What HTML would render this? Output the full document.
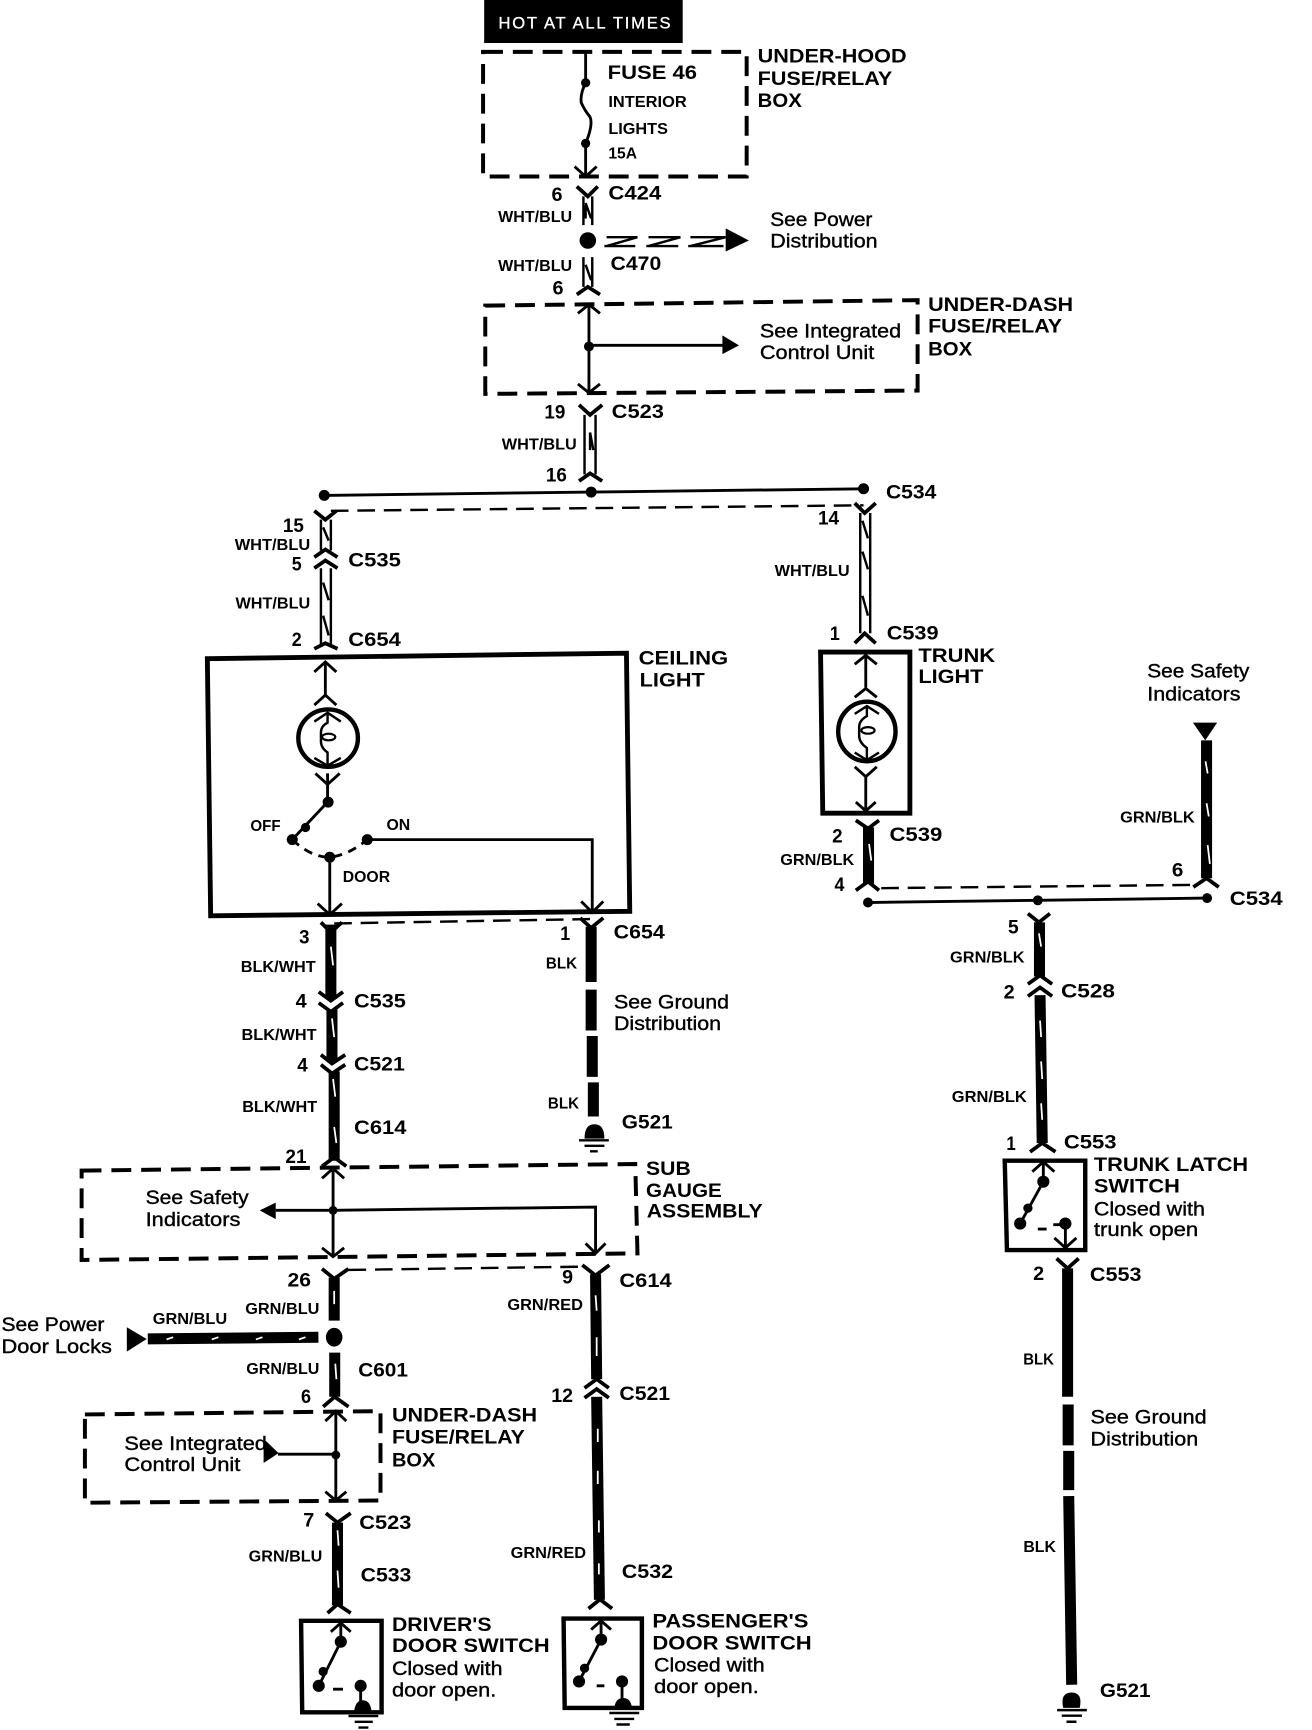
<!DOCTYPE html>
<html><head><meta charset="utf-8"><style>
html,body{margin:0;padding:0;background:#fff}
svg{display:block}
text{font-family:"Liberation Sans",sans-serif;fill:#000}
.b{font-weight:bold;font-size:17.5px}
.n{font-weight:bold;font-size:17.5px}
.s{font-weight:bold;font-size:14.5px}
.r{font-size:18px;stroke:#000;stroke-width:.35}
.l{fill:none;stroke:#000;stroke-width:2.6}
.d{fill:none;stroke:#000;stroke-width:3.6;stroke-dasharray:18 9}
.t{fill:none;stroke:#000;stroke-width:2.2}
.k{fill:none;stroke:#000;stroke-width:3.4}
.w{fill:none;stroke:#000;stroke-width:10}
.x{fill:none;stroke:#fff;stroke-width:1.6}
</style></head><body>
<svg width="1312" height="1730" viewBox="0 0 1189.6 1568" preserveAspectRatio="none" xmlns="http://www.w3.org/2000/svg">
<rect width="1189.6" height="1568" fill="#fff"/>
<rect x="439" y="0" width="180" height="39" fill="#000"/>

<!-- dashed boxes -->
<path class="d" d="M438 47H677V160H438Z"/>
<path class="d" d="M440 277L832 272V354L440 357Z"/>
<path class="d" d="M74 1061L576 1055L578 1136L74 1142Z"/>
<path class="d" d="M77 1282L345 1279V1360L77 1362Z"/>
<!-- thin dashed bridges -->
<path class="t" stroke-dasharray="16 8" d="M300 463L783 458"/>
<path class="t" stroke-width="2.6" stroke-dasharray="16 8" d="M303 837L536 833"/>
<path class="t" stroke-dasharray="16 8" d="M799 805L1085 802"/>
<path class="t" stroke-dasharray="16 8" d="M316 1151L532 1148"/>

<!-- solid boxes -->
<path fill="none" stroke="#000" stroke-width="4.4" d="M188 597L568 592L571 826L191 830Z"/>
<path fill="none" stroke="#000" stroke-width="4.4" d="M744 591H825V737H746Z"/>
<path fill="none" stroke="#000" stroke-width="4" d="M911 1052H984V1133H913Z"/>
<path fill="none" stroke="#000" stroke-width="4" d="M273 1469H346V1552H274Z"/>
<path fill="none" stroke="#000" stroke-width="4" d="M511 1467H582V1548H512Z"/>

<!-- thin wiring inside components -->
<path class="l" d="M531 47V75Q526 85 527 93Q530 100 535 106Q538 113 531 130V159M521 151L531 160L541 151"/>
<path class="l" d="M534 277V356M524 284L534 276L544 284M524 348L534 356L544 348M534 313H658"/>
<path class="l" d="M295 600V632M285 609L295 600L305 609M285 639L295 630L305 639"/>
<path class="l" d="M297 701L297 710V727M286 701L297 711L308 701M297 727L265 761M299 777V828M288 819L299 829L310 819M333 761H537V826M527 817L537 827L547 817"/>
<path class="l" stroke-dasharray="8 6" d="M265 761Q282 777 299 777Q316 775 333 761"/>
<path class="l" d="M785 594V623M775 602L785 594L795 602M775 632L785 624L795 632M775 695L785 704L795 695M785 704V734M776 727L785 735L794 727"/>
<path class="l" d="M302 1059V1139M292 1068L302 1059L312 1068M292 1131L302 1139L312 1131M250 1097H302Q400 1096 540 1094V1135M531 1127L540 1136L549 1127"/>
<path class="l" d="M304.500 1281V1359M295 1288L304.500 1279L314 1288M295 1352L304.500 1360L314 1352M252 1318H304.500"/>
<path class="l" d="M946 1054V1071M936 1062L946 1053L956 1062M946 1071L925 1109M966 1109V1130M956 1122L966 1131L976 1122M941 1114H949M955 1110H962"/>
<path class="l" d="M309 1472V1488M300 1479L309 1471L318 1479M309 1488L289 1528M302 1531H311M327 1528V1545"/>
<path class="l" d="M545 1470V1486M536 1477L545 1469L554 1477M545 1486L525 1524M541 1528H548M564 1524V1541"/>

<!-- buses -->
<path class="l" d="M294 449L536 446L783 443"/>
<path class="l" stroke-width="2.8" d="M787 818L941 816L1094 814"/>

<!-- dots -->
<g fill="#000">
<circle cx="531" cy="75" r="4.200"/><circle cx="531" cy="130" r="4.200"/>
<circle cx="533" cy="218" r="7.500"/><circle cx="534" cy="314" r="4.500"/>
<circle cx="294" cy="449" r="5"/><circle cx="536" cy="446" r="5"/><circle cx="783" cy="443" r="5"/>
<circle cx="297.500" cy="727" r="5"/><circle cx="277" cy="750" r="4.200"/><circle cx="265" cy="761" r="5"/><circle cx="299" cy="777" r="5"/><circle cx="333" cy="761" r="5"/>
<circle cx="787" cy="818" r="4.500"/><circle cx="941" cy="816" r="4.500"/><circle cx="1094.500" cy="814" r="4.500"/>
<circle cx="302" cy="1097" r="4"/><ellipse cx="303" cy="1212" rx="7.500" ry="8.500"/><circle cx="304.500" cy="1318.700" r="4"/>
<circle cx="946" cy="1071" r="5.500"/><circle cx="932" cy="1095" r="4.200"/><circle cx="925" cy="1109" r="5.500"/><circle cx="966" cy="1109" r="5.500"/>
<circle cx="309" cy="1488" r="5.500"/><circle cx="293" cy="1515" r="4.200"/><circle cx="289" cy="1528" r="5.500"/><circle cx="327" cy="1528" r="5.500"/>
<circle cx="545" cy="1486" r="5.500"/><circle cx="530" cy="1512" r="4.200"/><circle cx="525" cy="1524" r="5.500"/><circle cx="564" cy="1524" r="5.500"/>
<!-- arrows -->
<path d="M658 207L679 218L658 228Z"/>
<path d="M655 304L670 313L655 321Z"/>
<path d="M1081.600 655H1103.600L1092.800 671Z"/>
<path d="M235.500 1097L250 1090V1105Z"/>
<path d="M115 1203L133 1213.600L115 1225Z"/>
<path d="M239 1304L252.600 1317L239 1326Z"/>
<!-- grounds -->
<path d="M530 1032Q530 1019 539 1019Q548 1019 548 1032Z"/>
<path d="M964 1548Q961 1534 971.600 1534Q982 1534 979 1548Z"/>
<path d="M321 1552Q322 1541 329 1541Q336 1541 337 1552Z"/>
<path d="M557 1548Q558 1539 565 1539Q572 1539 573 1548Z"/>
</g>
<path class="t" d="M525 1033.500H552M530 1038.500H548M535 1043.500H542M958.500 1550H985.500M962.700 1555H981M967 1560.500H976M316 1555.400H343M321.600 1560.600H338M325 1565.800H334M552.500 1552.600H579.600M557 1558H575M559 1563H571"/>

<!-- lamps -->
<ellipse cx="297.500" cy="669" rx="27" ry="26" fill="none" stroke="#000" stroke-width="4"/>
<path class="t" d="M285 654L297 646L309 654M285 687L297 694L309 687M297 647V655Q291 658 291 664V672Q291 678 297 682V694"/>
<ellipse cx="298" cy="668" rx="6" ry="3" fill="none" stroke="#000" stroke-width="2"/>
<ellipse cx="786" cy="663" rx="26" ry="27" fill="none" stroke="#000" stroke-width="4"/>
<path class="t" d="M775 647L786 640L797 647M775 682L786 689L797 682M786 640V649Q779 653 779 659V667Q779 673 786 678V689"/>
<ellipse cx="787" cy="662" rx="6" ry="3" fill="none" stroke="#000" stroke-width="2"/>

<!-- WHT/BLU wires: double line with tracer -->
<path class="t" stroke-width="2.800" d="M529 178V204M537 178V204M529 233V260M537 233V260M530 376V430M540 376V430M291 471V499M300 471V499M291 515V584M300 515V584M780 465V574M789 465V574"/>
<path class="t" stroke-width="2.500" d="M531 184L536 198M531 198V186M531 240L536 254M535 392L538 408M535 408V392M293 478L298 490M293 528L298 544M293 558L298 576M782 472L787 488M782 500L787 516M782 540L787 558"/>
<!-- tracer on horizontal -->
<path class="t" stroke-width="3" d="M550 215H578M548 223H576M578 215L550 223M588 215H617M586 223H615M617 215L588 223M626 215H658M624 223H656M658 215L626 223"/>

<!-- connector Y / caps -->
<path class="k" d="M523 169L533 178L542 169M523 267L533 260L544 267M525 367L535 376L546 367M525 436L535 429L546 436M285 463L295 471L305 463M285 505L295 498L306 505M285 515L295 508L306 515M285 588L295 583L306 588M775 456L784 465L794 456M775 583L784 574L794 583"/>
<path class="k" stroke-width="3.800" d="M291 836L300 845L310 836M526 832L536 841L547 832M289 899L300 907L311 899M289 909L300 917L311 909M291 956L301 964L313 956M291 965L301 973L313 965M292 1057L303 1049L314 1057M292 1150L303 1159L316 1150M528 1146.600L540 1156L552.500 1146.600M530 1258L541 1250L552 1258M530 1267L541 1259L552 1267M533.600 1458L544 1449.600L555 1458M293 1275L303.500 1266L316 1275M295.500 1371.500L306 1380L318 1371.500M297 1462L306 1454L318 1462"/>
<path class="k" stroke-width="3.800" d="M776 743.500L787 751L797 743.500M776 807L787 799L797 807M1082 804L1094 796L1105 804M932 828L942 836L952 828M932 892L943 884L954 892M932 903L943 895L954 903M934 1044L945 1036L957 1044M958 1140.600L968 1149.600L978 1140.600"/>

<!-- black wires -->
<path class="w" d="M300 838L300 905M301 915L301 962M303 971L303 1052M536 840V890M536 897V934M537 939V976M538 981V1012"/>
<path class="w" d="M787.500 750V801M1094 671V796M942.500 836V885M943 902L945 1036"/>
<path class="w" stroke-width="10" d="M303 1158V1197M303.500 1226V1266M306 1380V1455M540 1155L541 1250M541 1266L543.500 1450"/>
<path class="w" d="M134 1213.500L288.700 1212"/>
<path class="w" d="M968 1149.600V1266M968.500 1273V1310M969 1315V1350.600M969 1356L971.700 1527"/>
<path class="x" d="M300 858L302 875M301 923L303 940M302 978L304 994M303 1021.500L305 1036M788 765L790 780M1093 690L1095 701M1094 728L1096 740M1095 766L1097 783M942 846L944 858M943 925L944 940M944 962L945 978M944 1000L945 1015M303 1170V1182M304 1236L305 1250M306 1387L307 1401M306 1423.500L307 1439M540 1174L541 1188M541 1212V1229M542 1295V1307M542 1333V1345M543 1378V1389M543 1417V1427M151 1214L157 1212M192 1214L198 1212M232 1214L238 1212M271 1214L277 1212"/>

<!-- TEXT -->
<text x="452" y="26" font-size="15" style="fill:#fff;stroke:#fff;stroke-width:.3" textLength="156" lengthAdjust="spacing">HOT AT ALL TIMES</text>
<g transform="translate(0,-0.8)">
<text class="b" x="687" y="57.500" textLength="135" lengthAdjust="spacingAndGlyphs">UNDER-HOOD</text>
<text class="b" x="687" y="78" textLength="122" lengthAdjust="spacingAndGlyphs">FUSE/RELAY</text>
<text class="b" x="687" y="98" textLength="40" lengthAdjust="spacingAndGlyphs">BOX</text>
<text class="b" x="551" y="72.500" textLength="81" lengthAdjust="spacingAndGlyphs">FUSE 46</text>
<text class="s" x="551.600" y="98" textLength="71" lengthAdjust="spacingAndGlyphs">INTERIOR</text>
<text class="s" x="551.600" y="122.400" textLength="54" lengthAdjust="spacingAndGlyphs">LIGHTS</text>
<text class="s" x="551.600" y="144.500" textLength="26" lengthAdjust="spacingAndGlyphs">15A</text>
<text class="n" x="500" y="183" textLength="10" lengthAdjust="spacingAndGlyphs">6</text>
<text class="b" x="551.600" y="181.600" textLength="48" lengthAdjust="spacingAndGlyphs">C424</text>
<text class="s" x="451.700" y="202" textLength="67" lengthAdjust="spacingAndGlyphs">WHT/BLU</text>
<text class="r" x="698.400" y="205.500" textLength="92.600" lengthAdjust="spacingAndGlyphs">See Power</text>
<text class="r" x="698.400" y="225" textLength="97.300" lengthAdjust="spacingAndGlyphs">Distribution</text>
<text class="s" x="451.700" y="246.400" textLength="67" lengthAdjust="spacingAndGlyphs">WHT/BLU</text>
<text class="b" x="553.600" y="245.500" textLength="46" lengthAdjust="spacingAndGlyphs">C470</text>
<text class="n" x="501" y="267.500" textLength="10" lengthAdjust="spacingAndGlyphs">6</text>
<text class="b" x="841.500" y="282.500" textLength="131.500" lengthAdjust="spacingAndGlyphs">UNDER-DASH</text>
<text class="b" x="841.500" y="302" textLength="121.500" lengthAdjust="spacingAndGlyphs">FUSE/RELAY</text>
<text class="b" x="841.500" y="323" textLength="40" lengthAdjust="spacingAndGlyphs">BOX</text>
<text class="r" x="689" y="306.500" textLength="128" lengthAdjust="spacingAndGlyphs">See Integrated</text>
<text class="r" x="689" y="326.400" textLength="103.700" lengthAdjust="spacingAndGlyphs">Control Unit</text>
<text class="n" x="493.600" y="380" textLength="19" lengthAdjust="spacingAndGlyphs">19</text>
<text class="b" x="554.600" y="379.500" textLength="47.400" lengthAdjust="spacingAndGlyphs">C523</text>
<text class="s" x="455" y="408" textLength="68" lengthAdjust="spacingAndGlyphs">WHT/BLU</text>
<text class="n" x="495" y="437" textLength="19" lengthAdjust="spacingAndGlyphs">16</text>
<text class="b" x="803.300" y="452.500" textLength="45.700" lengthAdjust="spacingAndGlyphs">C534</text>

<text class="n" x="256.500" y="483" textLength="19" lengthAdjust="spacingAndGlyphs">15</text>
<text class="s" x="212.800" y="499.300" textLength="68.500" lengthAdjust="spacingAndGlyphs">WHT/BLU</text>
<text class="n" x="264.500" y="517.700" textLength="9" lengthAdjust="spacingAndGlyphs">5</text>
<text class="b" x="315.800" y="514.400" textLength="47.700" lengthAdjust="spacingAndGlyphs">C535</text>
<text class="s" x="213.500" y="552.500" textLength="67.800" lengthAdjust="spacingAndGlyphs">WHT/BLU</text>
<text class="n" x="264.500" y="586.300" textLength="9" lengthAdjust="spacingAndGlyphs">2</text>
<text class="b" x="315.800" y="586.300" textLength="47.700" lengthAdjust="spacingAndGlyphs">C654</text>
<text class="b" x="579" y="603" textLength="81.300" lengthAdjust="spacingAndGlyphs">CEILING</text>
<text class="b" x="580" y="623.200" textLength="59" lengthAdjust="spacingAndGlyphs">LIGHT</text>
<text class="s" x="227" y="754" textLength="27.400" lengthAdjust="spacingAndGlyphs">OFF</text>
<text class="s" x="350.400" y="753" textLength="21.500" lengthAdjust="spacingAndGlyphs">ON</text>
<text class="s" x="310.800" y="800" textLength="42.900" lengthAdjust="spacingAndGlyphs">DOOR</text>
<text class="n" x="271.200" y="855.900" textLength="9.400" lengthAdjust="spacingAndGlyphs">3</text>
<text class="n" x="508" y="852.800" textLength="9" lengthAdjust="spacingAndGlyphs">1</text>
<text class="b" x="556.400" y="851.600" textLength="46.300" lengthAdjust="spacingAndGlyphs">C654</text>
<text class="s" x="218.300" y="881.600" textLength="68" lengthAdjust="spacingAndGlyphs">BLK/WHT</text>
<text class="n" x="268" y="914" textLength="10" lengthAdjust="spacingAndGlyphs">4</text>
<text class="b" x="321" y="914" textLength="47" lengthAdjust="spacingAndGlyphs">C535</text>
<text class="s" x="219" y="943.500" textLength="68" lengthAdjust="spacingAndGlyphs">BLK/WHT</text>
<text class="n" x="269.500" y="972" textLength="9.500" lengthAdjust="spacingAndGlyphs">4</text>
<text class="b" x="321" y="971" textLength="46" lengthAdjust="spacingAndGlyphs">C521</text>
<text class="s" x="219.600" y="1008.500" textLength="68" lengthAdjust="spacingAndGlyphs">BLK/WHT</text>
<text class="b" x="321" y="1028.500" textLength="47.500" lengthAdjust="spacingAndGlyphs">C614</text>
<text class="n" x="258.800" y="1054.700" textLength="19.200" lengthAdjust="spacingAndGlyphs">21</text>
<text class="s" x="495" y="878.600" textLength="28.300" lengthAdjust="spacingAndGlyphs">BLK</text>
<text class="r" x="556.700" y="915" textLength="104.300" lengthAdjust="spacingAndGlyphs">See Ground</text>
<text class="r" x="556.700" y="934.500" textLength="97.100" lengthAdjust="spacingAndGlyphs">Distribution</text>
<text class="s" x="496.800" y="1005.500" textLength="28.200" lengthAdjust="spacingAndGlyphs">BLK</text>
<text class="b" x="563.800" y="1023.600" textLength="46.200" lengthAdjust="spacingAndGlyphs">G521</text>
<text class="b" x="585.800" y="1066" textLength="40.500" lengthAdjust="spacingAndGlyphs">SUB</text>
<text class="b" x="585.800" y="1085.600" textLength="68.700" lengthAdjust="spacingAndGlyphs">GAUGE</text>

<g transform="translate(0,-1)">
<text class="b" x="586.400" y="1105.500" textLength="105.100" lengthAdjust="spacingAndGlyphs">ASSEMBLY</text>
<text class="r" x="132" y="1093" textLength="93.500" lengthAdjust="spacingAndGlyphs">See Safety</text>
<text class="r" x="132" y="1113" textLength="86" lengthAdjust="spacingAndGlyphs">Indicators</text>
<text class="n" x="260.700" y="1168" textLength="21.300" lengthAdjust="spacingAndGlyphs">26</text>
<text class="n" x="509.700" y="1165" textLength="9.900" lengthAdjust="spacingAndGlyphs">9</text>
<text class="b" x="561.600" y="1168.500" textLength="47.400" lengthAdjust="spacingAndGlyphs">C614</text>
<text class="s" x="222.400" y="1192.800" textLength="67.200" lengthAdjust="spacingAndGlyphs">GRN/BLU</text>
<text class="s" x="460" y="1189.300" textLength="68.600" lengthAdjust="spacingAndGlyphs">GRN/RED</text>
<text class="r" x="1.400" y="1208" textLength="93.300" lengthAdjust="spacingAndGlyphs">See Power</text>
<text class="r" x="1.400" y="1228" textLength="100.100" lengthAdjust="spacingAndGlyphs">Door Locks</text>
<text class="s" x="138.500" y="1202" textLength="67.500" lengthAdjust="spacingAndGlyphs">GRN/BLU</text>
<text class="s" x="223.300" y="1247" textLength="66.300" lengthAdjust="spacingAndGlyphs">GRN/BLU</text>
<text class="b" x="324.800" y="1249.500" textLength="45.100" lengthAdjust="spacingAndGlyphs">C601</text>
<text class="n" x="272.900" y="1273.600" textLength="9.100" lengthAdjust="spacingAndGlyphs">6</text>
<text class="n" x="499.800" y="1272.600" textLength="19.800" lengthAdjust="spacingAndGlyphs">12</text>
<text class="b" x="561.600" y="1270.900" textLength="46" lengthAdjust="spacingAndGlyphs">C521</text>
<text class="b" x="355.400" y="1290" textLength="131.600" lengthAdjust="spacingAndGlyphs">UNDER-DASH</text>
<text class="b" x="355.400" y="1310" textLength="120.500" lengthAdjust="spacingAndGlyphs">FUSE/RELAY</text>
<text class="b" x="355.400" y="1331" textLength="39.300" lengthAdjust="spacingAndGlyphs">BOX</text>
<text class="r" x="112.800" y="1316" textLength="129.200" lengthAdjust="spacingAndGlyphs">See Integrated</text>
<text class="r" x="112.800" y="1335" textLength="105.200" lengthAdjust="spacingAndGlyphs">Control Unit</text>
<text class="n" x="275" y="1385.400" textLength="10" lengthAdjust="spacingAndGlyphs">7</text>
<text class="b" x="325.700" y="1387.800" textLength="47.300" lengthAdjust="spacingAndGlyphs">C523</text>
<text class="s" x="225.500" y="1417.300" textLength="66.800" lengthAdjust="spacingAndGlyphs">GRN/BLU</text>
<text class="s" x="463" y="1414" textLength="68.400" lengthAdjust="spacingAndGlyphs">GRN/RED</text>
<text class="b" x="327" y="1435.200" textLength="46" lengthAdjust="spacingAndGlyphs">C533</text>
<text class="b" x="563.800" y="1432" textLength="46.500" lengthAdjust="spacingAndGlyphs">C532</text>
<text class="b" x="355.400" y="1480" textLength="90.300" lengthAdjust="spacingAndGlyphs">DRIVER'S</text>
<text class="b" x="355.400" y="1499" textLength="143" lengthAdjust="spacingAndGlyphs">DOOR SWITCH</text>
<text class="r" x="355.400" y="1520" textLength="100.200" lengthAdjust="spacingAndGlyphs">Closed with</text>
<text class="r" x="355.400" y="1539.500" textLength="94.600" lengthAdjust="spacingAndGlyphs">door open.</text>
<text class="b" x="591.500" y="1477" textLength="141.500" lengthAdjust="spacingAndGlyphs">PASSENGER'S</text>
<text class="b" x="591.500" y="1497" textLength="144.500" lengthAdjust="spacingAndGlyphs">DOOR SWITCH</text>
<text class="r" x="593" y="1517" textLength="100.300" lengthAdjust="spacingAndGlyphs">Closed with</text>
<text class="r" x="593" y="1536.500" textLength="95" lengthAdjust="spacingAndGlyphs">door open.</text>
</g>

<text class="n" x="741.700" y="476" textLength="19.100" lengthAdjust="spacingAndGlyphs">14</text>
<text class="s" x="702.400" y="522.800" textLength="68" lengthAdjust="spacingAndGlyphs">WHT/BLU</text>
<text class="n" x="752.500" y="581" textLength="9" lengthAdjust="spacingAndGlyphs">1</text>
<text class="b" x="804" y="580.300" textLength="47" lengthAdjust="spacingAndGlyphs">C539</text>
<text class="b" x="832.700" y="600.800" textLength="69.600" lengthAdjust="spacingAndGlyphs">TRUNK</text>
<text class="b" x="832.700" y="620" textLength="59" lengthAdjust="spacingAndGlyphs">LIGHT</text>
<text class="r" x="1040.200" y="615" textLength="92.600" lengthAdjust="spacingAndGlyphs">See Safety</text>
<text class="r" x="1040.200" y="635.500" textLength="84.600" lengthAdjust="spacingAndGlyphs">Indicators</text>
<text class="b" x="806.500" y="763" textLength="47.900" lengthAdjust="spacingAndGlyphs">C539</text>
<text class="n" x="754.500" y="764.600" textLength="9.500" lengthAdjust="spacingAndGlyphs">2</text>
<text class="s" x="707.500" y="785" textLength="67.100" lengthAdjust="spacingAndGlyphs">GRN/BLK</text>
<text class="n" x="756.700" y="808.400" textLength="9" lengthAdjust="spacingAndGlyphs">4</text>
<text class="s" x="1015.600" y="746.500" textLength="67.700" lengthAdjust="spacingAndGlyphs">GRN/BLK</text>
<text class="n" x="1062.600" y="795.400" textLength="10.400" lengthAdjust="spacingAndGlyphs">6</text>
<text class="b" x="1115" y="821" textLength="48" lengthAdjust="spacingAndGlyphs">C534</text>
<text class="n" x="914" y="846.800" textLength="9.700" lengthAdjust="spacingAndGlyphs">5</text>
<text class="s" x="861.400" y="873.400" textLength="67.600" lengthAdjust="spacingAndGlyphs">GRN/BLK</text>
<text class="n" x="910" y="906" textLength="10" lengthAdjust="spacingAndGlyphs">2</text>
<text class="b" x="962" y="905" textLength="49" lengthAdjust="spacingAndGlyphs">C528</text>
<text class="s" x="863" y="999.500" textLength="68" lengthAdjust="spacingAndGlyphs">GRN/BLK</text>
<text class="n" x="912.500" y="1043" textLength="8.500" lengthAdjust="spacingAndGlyphs">1</text>
<text class="b" x="964.600" y="1041.900" textLength="47.800" lengthAdjust="spacingAndGlyphs">C553</text>
<text class="b" x="991.800" y="1062" textLength="139.900" lengthAdjust="spacingAndGlyphs">TRUNK LATCH</text>
<text class="b" x="991.800" y="1081.700" textLength="78" lengthAdjust="spacingAndGlyphs">SWITCH</text>
<text class="r" x="991.800" y="1102.500" textLength="100.700" lengthAdjust="spacingAndGlyphs">Closed with</text>
<text class="r" x="991.800" y="1121" textLength="94.600" lengthAdjust="spacingAndGlyphs">trunk open</text>
<text class="n" x="936.700" y="1161" textLength="10" lengthAdjust="spacingAndGlyphs">2</text>
<text class="b" x="988.200" y="1161.800" textLength="46.800" lengthAdjust="spacingAndGlyphs">C553</text>
<text class="s" x="927.800" y="1237.600" textLength="27.800" lengthAdjust="spacingAndGlyphs">BLK</text>
<text class="r" x="988.800" y="1291" textLength="105.200" lengthAdjust="spacingAndGlyphs">See Ground</text>
<text class="r" x="988.800" y="1311" textLength="97.600" lengthAdjust="spacingAndGlyphs">Distribution</text>
<text class="s" x="927.900" y="1407.600" textLength="29.500" lengthAdjust="spacingAndGlyphs">BLK</text>
<text class="b" x="997.300" y="1539" textLength="45.900" lengthAdjust="spacingAndGlyphs">G521</text>
</g>
</svg>
</body></html>
